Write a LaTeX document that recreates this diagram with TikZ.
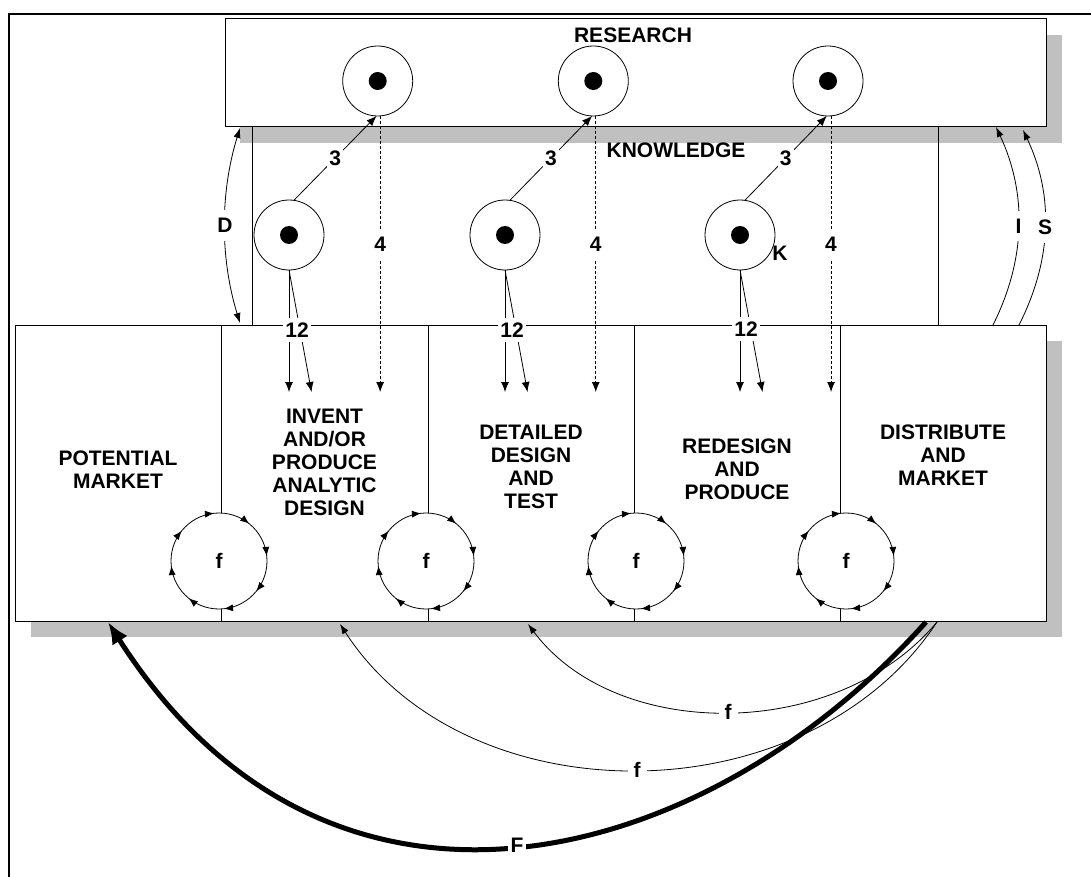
\documentclass[tikz,border=0pt]{standalone}
\usepackage{fontspec}
\setmainfont{Liberation Sans}
\usetikzlibrary{arrows.meta,decorations.markings,calc}
\definecolor{shadowgray}{RGB}{192,192,192}

\begin{document}
\begin{tikzpicture}[x=1pt,y=1pt,
  every node/.style={font=\fontsize{21}{23}\selectfont\bfseries, inner sep=0pt, outer sep=0pt},
  box/.style={draw, line width=1pt, fill=white},
  ring/.style={circle, draw, line width=0.8pt, fill=white, minimum size=70pt},
  lbl/.style={fill=white, inner xsep=2pt, inner ysep=5pt},
  tall lbl/.style={fill=white, inner xsep=2pt, inner ysep=8pt},
  tip/.style={-{Latex[length=10pt,width=8pt]}},
  link/.style={line width=0.8pt},
  knowdash/.style={line width=0.8pt, dash pattern=on 3pt off 2pt},
  cycle/.style={line width=0.8pt, fill=white, postaction={decorate},
    decoration={markings, mark=between positions 0.0167 and 0.99 step 0.125
      with {\arrowreversed{Latex[length=9pt,width=7pt]}}}},
]
\useasboundingbox (0,0) rectangle (1091,-877);

% outer frame: top and left edges
\draw[line width=2pt] (9,-877) -- (9,-14) -- (1091,-14);

% drop shadows
\fill[shadowgray] (240,-35) rectangle (1062,-143);
\fill[shadowgray] (31,-341) rectangle (1062,-637);

% research box and stage box
\node[box, minimum width=821pt, minimum height=108pt] (research) at (635.5,-73) {};
\node[box, minimum width=1031pt, minimum height=296pt] (stages) at (530.5,-473) {};

\node (researchtitle) at (633,-35) {RESEARCH};
\node (knowledge) at (676,-150) {KNOWLEDGE};

% helper coordinates
\coordinate (tipline) at (0,-392);
\coordinate (xa) at (252,0);
\coordinate (xb) at (938,0);

% side links between research and stages
\draw[link] (research.south -| xa) -- (stages.north -| xa);
\draw[link] (research.south -| xb) -- (stages.north -| xb);

% stage dividers
\foreach \x [count=\i] in {221,428,634,840} {
  \coordinate (div\i) at (\x,0);
  \draw[link] (stages.north -| div\i) -- (stages.south -| div\i);
}

% stage titles
\node[align=center] (potential) at (118,-470) {POTENTIAL\\MARKET};
\node[align=center] (invent) at (324.5,-462.5) {INVENT\\AND/OR\\PRODUCE\\ANALYTIC\\DESIGN};
\node[align=center] (detailed) at (531,-466.5) {DETAILED\\DESIGN\\AND\\TEST};
\node[align=center] (redesign) at (737,-469) {REDESIGN\\AND\\PRODUCE};
\node[align=center] (distribute) at (943,-455) {DISTRIBUTE\\AND\\MARKET};

% local feedback cycles
\foreach \x [count=\i] in {219,426,636,846} {
  \coordinate (cyc\i) at (\x,-561);
  \draw[cycle] (cyc\i) circle (48);
  \node (f\i) at (cyc\i) {f};
}

% knowledge circles
\node[ring] (r1) at (377.7,-81) {};
\node[ring] (r2) at (593.3,-81) {};
\node[ring] (r3) at (828,-81) {};
\node[ring] (l1) at (289,-235) {};
\node[ring] (l2) at (505,-235) {};
\node[ring] (l3) at (740,-235) {};
\foreach \n in {r1,r2,r3,l1,l2,l3} { \fill (\n) circle (9); }
\node (k) at (780,-253) {K};

% links 3 (up to research) and 4 (down from research)
\foreach \i/\a in {1/274.3,2/274.4,3/275} {
  \draw[tip, link] (l\i.82) -- node[lbl]{3} (r\i.268);
  \draw[tip, knowdash] (r\i.\a) -- node[tall lbl, pos=0.465]{4} (r\i.\a |- tipline);
  \draw[tip, link] (l\i.south) -- (l\i.south |- tipline);
  \draw[tip, link] (l\i.south) -- ($(l\i.south |- tipline)+(22.5,0)$);
}
\node[lbl] (twelve1) at (297,-330) {12};
\node[lbl] (twelve2) at (512,-330) {12};
\node[lbl] (twelve3) at (746,-329) {12};

% D, I and S links
\coordinate (dTop) at (240,-128);
\coordinate (dBot) at (240,-323);
\coordinate (iBot) at (993,-325);
\coordinate (iTop) at (996,-127);
\coordinate (sBot) at (1019,-325);
\coordinate (sTop) at (1023,-130);
\draw[link, {Latex[length=10pt,width=7pt]}-{Latex[length=10pt,width=7pt]}]
  (dTop) .. controls (220,-193) and (220,-258) .. (dBot) node[tall lbl, pos=0.5]{D};
\draw[link, -{Latex[length=10pt,width=7pt]}]
  (iBot) .. controls (1026,-259) and (1027,-193) .. (iTop) node[tall lbl, pos=0.5]{I};
\draw[link, -{Latex[length=10pt,width=7pt]}]
  (sBot) .. controls (1052,-260) and (1054,-195) .. (sTop) node[tall lbl, pos=0.5]{S};

% market feedback
\coordinate (fstart) at (937,-622);
\coordinate (Fstart) at (926,-622);
\coordinate (toDetail) at (528,-624);
\coordinate (toInvent) at (340,-624);
\coordinate (toMarket) at (108,-622);
\draw[link, -{Latex[length=10pt,width=7pt]}]
  (fstart) .. controls (837,-742) and (616,-742) .. (toDetail)
  node[lbl, inner xsep=6pt, pos=0.5]{f};
\draw[link, -{Latex[length=10pt,width=7pt]}]
  (fstart) .. controls (807,-819) and (466,-819) .. (toInvent)
  node[lbl, inner xsep=6pt, pos=0.5]{f};
\draw[line width=5pt, -{Latex[length=22pt,width=18pt]}]
  (Fstart) .. controls (704,-870) and (330,-970) .. (toMarket)
  node[lbl, inner xsep=3pt, pos=0.5]{F};
\end{tikzpicture}
\end{document}
